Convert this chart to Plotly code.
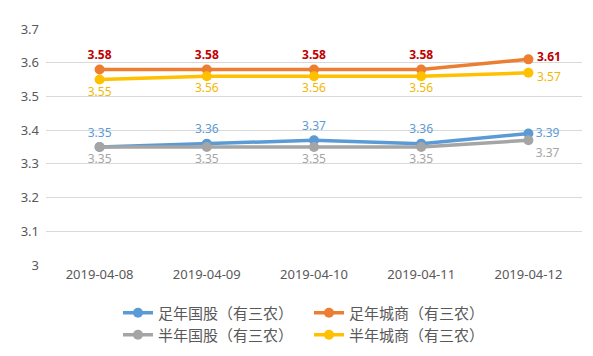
import plotly.graph_objects as go

dates = ["2019-04-08", "2019-04-09", "2019-04-10", "2019-04-11", "2019-04-12"]
full_gov = [3.35, 3.36, 3.37, 3.36, 3.39]      # 足年国股（有三农）
full_city = [3.58, 3.58, 3.58, 3.58, 3.61]     # 足年城商（有三农）
half_gov = [3.35, 3.35, 3.35, 3.35, 3.37]      # 半年国股（有三农）
half_city = [3.55, 3.56, 3.56, 3.56, 3.57]     # 半年城商（有三农）
names = ["足年国股（有三农）", "足年城商（有三农）", "半年国股（有三农）", "半年城商（有三农）"]
y_ticks = [3.0, 3.1, 3.2, 3.3, 3.4, 3.5, 3.6, 3.7]

FONT = "Noto Sans, Noto Sans CJK SC, sans-serif"
fig = go.Figure()
annotations = []

def add(y, name, color, tcolor, pos, legend, bold=False, last_shift=None):
    txt = [f"{v:.2f}" for v in y]
    tfont = dict(color=tcolor, size=12, family=FONT, weight="bold" if bold else "normal")
    if last_shift is not None:
        txt = txt[:-1] + [""]
        annotations.append(dict(x=dates[-1], y=y[-1], text=f"{y[-1]:.2f}", showarrow=False,
                                xanchor="left", yanchor="middle", xshift=7, yshift=last_shift,
                                font=tfont))
    fig.add_trace(go.Scatter(
        x=dates, y=y, name=name, mode="lines+markers+text",
        line=dict(color=color, width=3.5),
        marker=dict(color=color, size=10),
        text=txt,
        textposition=pos,
        textfont=tfont,
        legend=legend, cliponaxis=False,
    ))

add(full_gov, names[0], "#5B9BD5", "#5B9BD5", ["top center"] * 4 + ["middle right"], "legend")
add(full_city, names[1], "#ED7D31", "#C00000", ["top center"] * 5, "legend", bold=True, last_shift=3)
add(half_gov, names[2], "#A5A5A5", "#A5A5A5", ["bottom center"] * 4 + ["bottom right"], "legend2")
add(half_city, names[3], "#FFC000", "#F2B800", ["bottom center"] * 5, "legend2", last_shift=-4)

leg_common = dict(orientation="h", xanchor="left", yanchor="middle", xref="container", yref="container",
                  font=dict(size=15, color="#595959", family=FONT), entrywidth=146, bgcolor="rgba(0,0,0,0)",
                  itemclick=False)
fig.update_layout(
    width=593, height=356,
    margin=dict(l=38, r=19, t=17, b=99),
    paper_bgcolor="white", plot_bgcolor="white",
    font=dict(family=FONT, color="#595959", size=13),
    legend=dict(x=110 / 593, y=1 - 305 / 356, **leg_common),
    legend2=dict(x=110 / 593, y=1 - 327 / 356, **leg_common),
    xaxis=dict(type="category", range=[-0.5, 4.5], showgrid=False, showline=False, ticks="",
               tickfont=dict(size=13, color="#595959")),
    yaxis=dict(range=[3.0, 3.7], tickvals=y_ticks, ticktext=[f"{v:g}" for v in y_ticks],
               showgrid=True, gridcolor="#D9D9D9", gridwidth=1, zeroline=False, showline=False,
               tickfont=dict(size=13, color="#595959"), ticks="", ticklabelstandoff=6),
    showlegend=True,
    annotations=annotations,
    shapes=[dict(type="line", xref="paper", yref="paper", x0=(583 - 38) / 536, x1=(583 - 38) / 536,
                 y0=-99 / 240, y1=17 / 240 + 1, line=dict(color="#EEEEEE", width=1))],
)
fig.write_html("out.html")
